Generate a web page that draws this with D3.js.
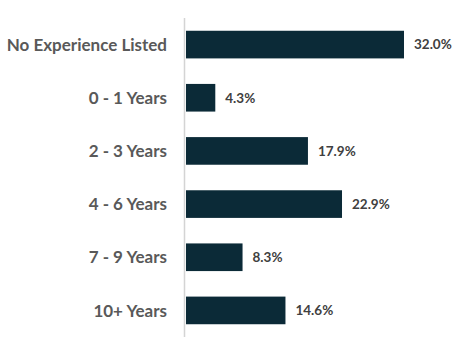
<!DOCTYPE html>
<html><head><meta charset="utf-8">
<script src="https://cdn.jsdelivr.net/npm/d3@7"></script>
<style>body{margin:0;background:#fff}svg{display:block}</style>
</head><body>
<svg id="c" width="469" height="356"></svg>
<script>
const categories = ["No Experience Listed","0 - 1 Years","2 - 3 Years","4 - 6 Years","7 - 9 Years","10+ Years"];
const values = [32.0, 4.3, 17.9, 22.9, 8.3, 14.6];
const valueLabels = ["32.0%","4.3%","17.9%","22.9%","8.3%","14.6%"];

const svg = d3.select("#c");
const x0 = 186;
const x = d3.scaleLinear().domain([0, 32]).range([x0, 404]);
const y = d3.scaleBand().domain(categories).range([18, 337]).paddingInner(0.48).paddingOuter(0.24);

svg.append("line").attr("x1",184.5).attr("x2",184.5).attr("y1",18).attr("y2",337)
  .attr("stroke","#d4d4d4").attr("stroke-width",1.5);

svg.selectAll("rect.bar").data(categories).join("rect").attr("class","bar")
  .attr("x", x(0)).attr("y", d=>y(d)).attr("height", y.bandwidth())
  .attr("width", (d,i)=>x(values[i])-x(0)).attr("fill","#0b2a37");

svg.selectAll("text.cat").data(categories).join("text").attr("class","cat")
  .attr("x",167).attr("y", d=>y(d)+y.bandwidth()/2).attr("dy","0.36em")
  .attr("text-anchor","end").attr("font-family","Lato, 'Open Sans', sans-serif")
  .attr("font-weight","bold").attr("font-size",17).attr("fill","#595959").text(d=>d);

svg.selectAll("text.val").data(categories).join("text").attr("class","val")
  .attr("x",(d,i)=>x(values[i])+10).attr("y", d=>y(d)+y.bandwidth()/2).attr("dy","0.36em")
  .attr("font-family","Lato, 'Open Sans', sans-serif")
  .attr("font-weight","bold").attr("font-size",13.5).attr("fill","#404040").text((d,i)=>valueLabels[i]);
</script>
</body></html>
